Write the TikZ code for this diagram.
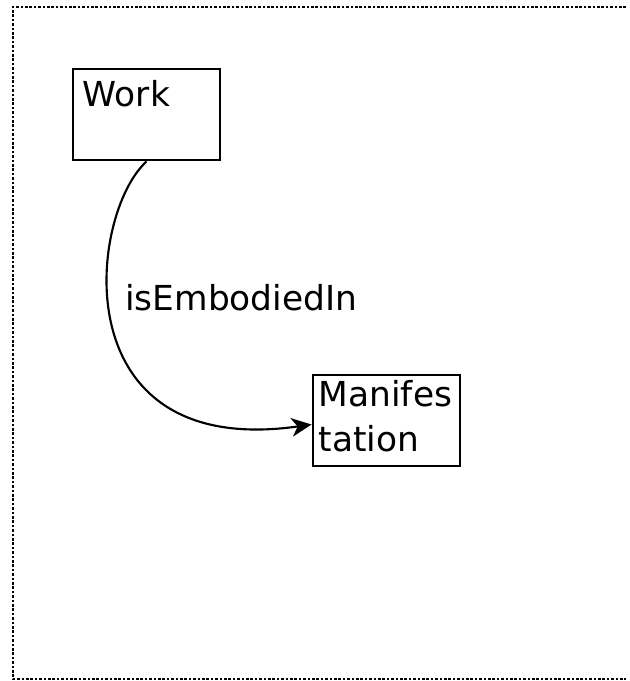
\documentclass[tikz,border=0pt]{standalone}
\usepackage{fontspec}
\setmainfont{DejaVu Sans}
\usetikzlibrary{arrows.meta}

\tikzset{
  entity/.style={draw, line width=2.2pt, minimum width=110.25pt, minimum height=68.25pt, inner sep=0pt},
  etext/.style={inner sep=0pt, align=left, font=\fontsize{25.8}{33.75}\selectfont},
  relation/.style={line width=1.6pt, -{Stealth[length=15pt,width=14pt,inset=4.5pt]}},
}

\begin{document}
\begin{tikzpicture}[x=0.75pt,y=-0.75pt]
\useasboundingbox (0,0) rectangle (630,681);

%frame
\draw[line width=1.9pt, dash pattern=on 1.9pt off 1.4pt] (626,7) -- (13,7) -- (13,679) -- (626,679);

%entities
\node[entity] (work) at (146.5,114.5) {};
\node[etext, anchor=base west] (worktxt) at ([shift={(11,39)}]work.north west) {Work};

\node[entity] (mani) at (386.5,420.5) {};
\node[etext, anchor=base west] (manitxt) at ([shift={(7,78)}]mani.north west) {Manifes\\tation};

%relation
\draw[relation] (work.south) .. controls (88,215) and (62,460) .. ([yshift=-3pt]mani.west);
\node[etext, anchor=west] (rel) at (125,298) {isEmbodiedIn};
\end{tikzpicture}
\end{document}
